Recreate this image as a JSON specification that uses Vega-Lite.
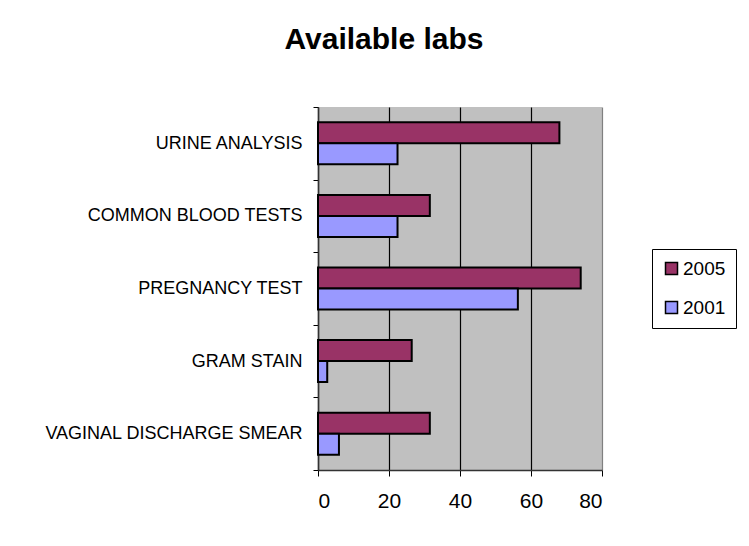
{
  "$schema": "https://vega.github.io/schema/vega-lite/v6.json",
  "width": 284,
  "height": 363,
  "autosize": {"type": "none"},
  "padding": {"left": 318, "top": 107, "right": 147, "bottom": 76},
  "background": "white",
  "title": {
    "text": "Available labs",
    "font": "Liberation Sans",
    "fontSize": 30,
    "fontWeight": "bold",
    "color": "black",
    "anchor": "middle",
    "frame": "group",
    "dx": -76,
    "baseline": "alphabetic",
    "offset": 19
  },
  "data": {
    "values": [
      {"test": "URINE ANALYSIS", "year": "2005", "value": 68},
      {"test": "URINE ANALYSIS", "year": "2001", "value": 22.4},
      {"test": "COMMON BLOOD TESTS", "year": "2005", "value": 31.5},
      {"test": "COMMON BLOOD TESTS", "year": "2001", "value": 22.4},
      {"test": "PREGNANCY TEST", "year": "2005", "value": 74},
      {"test": "PREGNANCY TEST", "year": "2001", "value": 56.3},
      {"test": "GRAM STAIN", "year": "2005", "value": 26.4},
      {"test": "GRAM STAIN", "year": "2001", "value": 2.6},
      {"test": "VAGINAL DISCHARGE SMEAR", "year": "2005", "value": 31.5},
      {"test": "VAGINAL DISCHARGE SMEAR", "year": "2001", "value": 5.9}
    ]
  },
  "mark": {"type": "bar", "stroke": "black", "strokeWidth": 2, "strokeJoin": "miter"},
  "encoding": {
    "y": {
      "field": "test",
      "type": "nominal",
      "sort": ["URINE ANALYSIS", "COMMON BLOOD TESTS", "PREGNANCY TEST", "GRAM STAIN", "VAGINAL DISCHARGE SMEAR"],
      "scale": {"paddingInner": 0, "paddingOuter": 0},
      "axis": {
        "title": null,
        "tickBand": "extent",
        "labelFont": "Liberation Sans",
        "labelFontSize": 18,
        "labelColor": "black",
        "labelPadding": 11,
        "labelLimit": 0,
        "tickColor": "black",
        "tickSize": 5,
        "domainColor": "#333333",
        "domainWidth": 1.5,
        "grid": false
      }
    },
    "yOffset": {
      "field": "year",
      "type": "nominal",
      "sort": ["2005", "2001"],
      "scale": {"paddingInner": 0, "paddingOuter": 0.73}
    },
    "x": {
      "field": "value",
      "type": "quantitative",
      "scale": {"domain": [0, 80], "nice": false},
      "axis": {
        "title": null,
        "values": [0, 20, 40, 60, 80],
        "labelFont": "Liberation Sans",
        "labelFontSize": 21,
        "labelColor": "black",
        "labelPadding": 14,
        "tickColor": "black",
        "tickSize": 6,
        "domainColor": "#333333",
        "domainWidth": 1.5,
        "grid": true,
        "gridColor": {"condition": {"test": "datum.value === 80", "value": "#808080"}, "value": "black"},
        "gridWidth": 1.2
      }
    },
    "color": {
      "field": "year",
      "type": "nominal",
      "sort": ["2005", "2001"],
      "scale": {"domain": ["2005", "2001"], "range": ["#993366", "#9999FF"]},
      "legend": {
        "title": null,
        "orient": "none",
        "legendX": 334,
        "legendY": 142,
        "symbolType": "square",
        "symbolSize": 144,
        "symbolStrokeColor": "black",
        "symbolStrokeWidth": 1.5,
        "symbolOpacity": 1,
        "labelFont": "Liberation Sans",
        "labelFontSize": 19,
        "labelColor": "black",
        "labelOffset": 2,
        "rowPadding": 19,
        "padding": 10,
        "strokeColor": "black",
        "fillColor": "white"
      }
    }
  },
  "config": {
    "view": {"fill": "#C0C0C0", "stroke": null}
  }
}
